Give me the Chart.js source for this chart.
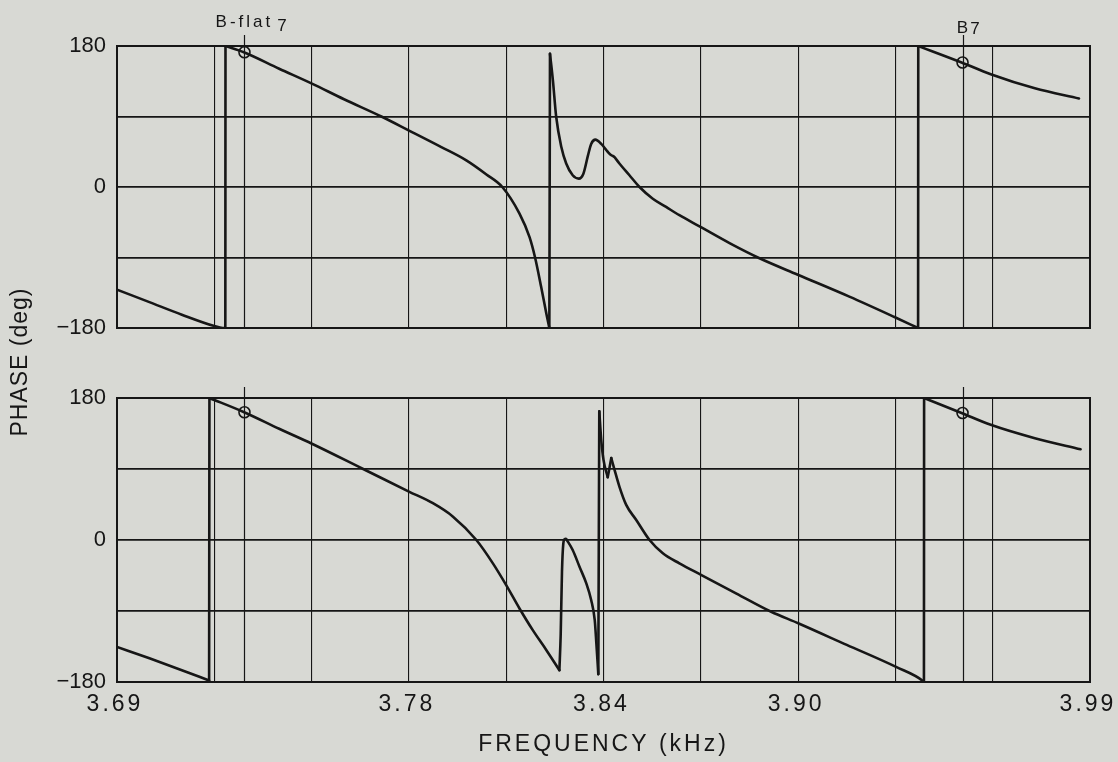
<!DOCTYPE html>
<html>
<head>
<meta charset="utf-8">
<script src="https://cdn.jsdelivr.net/npm/chart.js@4.4.1/dist/chart.umd.min.js"></script>
<style>
html,body{margin:0;padding:0;background:#d8d9d4;}
#wrap{position:relative;width:1118px;height:762px;overflow:hidden;}
canvas{position:absolute;left:0;top:0;}
</style>
</head>
<body>
<div id="wrap">
<canvas id="c1" width="1118" height="762"></canvas>
<canvas id="c2" width="1118" height="762"></canvas>
</div>
<script>
// ---------------- data ----------------
const xGridValues = [3.69, 3.72, 3.75, 3.78, 3.81, 3.84, 3.87, 3.90, 3.93, 3.96, 3.99];
const xTickLabels = ['3.69', '3.78', '3.84', '3.90', '3.99'];
const yGridValues = [-180, -90, 0, 90, 180];
const yLabelValues = [-180, 0, 180];
const yTickLabels = ['\u2212180', '0', '180'];
const xTitle = 'FREQUENCY (kHz)';
const yTitle = 'PHASE (deg)';

const noteNames = ['B-flat', 'B'];
const noteOctave = ['7', '7'];
const noteFreq = [3.7293, 3.9507];
const topNotePhase = [172, 159];
const botNotePhase = [162, 161];

const topFreq = [3.6900, 3.7000, 3.7100, 3.7200, 3.7226, 3.72340, 3.72345,
  3.7291, 3.7400, 3.7501, 3.7600, 3.7715, 3.7799, 3.7900, 3.7977, 3.8039, 3.8088,
  3.8141, 3.8172, 3.8189, 3.8208, 3.8224, 3.8233, 3.8235,
  3.8244, 3.8254, 3.8270, 3.8285, 3.8305, 3.8324, 3.8338, 3.8352, 3.8362, 3.8375,
  3.8393, 3.8413, 3.8424, 3.8430, 3.8434, 3.8449, 3.8480, 3.8511, 3.8552, 3.8593,
  3.8634, 3.8699, 3.8790, 3.8881, 3.8999, 3.9158, 3.9297, 3.93700, 3.93705,
  3.9504, 3.9594, 3.9730, 3.9866];
const topPhase = [-131, -147, -163, -177.5, -180, -180, 180,
  172, 151, 132, 112, 90, 72.4, 51, 34, 16, 0,
  -34, -64, -90, -128, -162, -180, 170,
  136, 90, 51, 30, 15, 10.7, 17, 40, 55, 60.5,
  55, 45, 40.5, 39.5, 38, 30, 15, 0, -15, -25.5,
  -36, -51, -72, -91, -112, -140, -166, -180, 180,
  159, 144, 126, 113];

const botFreq = [3.6900, 3.7000, 3.7100, 3.7184, 3.7185,
  3.7292, 3.7400, 3.7501, 3.7659, 3.7800, 3.7874, 3.7936, 3.8008, 3.8059, 3.8100,
  3.8141, 3.8182, 3.8224, 3.8264, 3.8268, 3.8272, 3.8276, 3.8280, 3.8284, 3.8290,
  3.8305, 3.8326, 3.8347, 3.8362, 3.8373, 3.8378, 3.8384, 3.8387,
  3.8393, 3.8400, 3.8413, 3.8424, 3.8434, 3.8449, 3.8470, 3.8501, 3.8542, 3.8583,
  3.8634, 3.8702, 3.8810, 3.8917, 3.9002, 3.9150, 3.9302, 3.9385, 3.93880, 3.93885,
  3.9504, 3.9594, 3.9730, 3.9871];
const botPhase = [-135.5, -150, -165, -178, 180,
  162, 141, 122, 90, 61.4, 46.6, 29.6, 0, -29.6, -57.2,
  -86.8, -114.3, -139.7, -165, -120, -40, -5, 1, 1.5, -2,
  -12.7, -33.9, -55, -76, -101.6, -131, -170, 163,
  127, 101.6, 79.6, 103.8, 89, 67.7, 44.5, 25.4, 0, -16.9,
  -29.6, -44.5, -68, -91, -105.8, -133, -160.9, -178.7, -180, 180,
  161, 146, 129, 115];

// ---------------- style ----------------
const INK = '#161616';
const FONT = "'Liberation Sans', Arial, Helvetica, sans-serif";
Chart.defaults.font.family = FONT;
Chart.defaults.color = INK;

// split a trace into smooth pieces at phase wraps and sharp cusps
function pieces(freq, phase) {
  const n = freq.length;
  const slope = i => (phase[i + 1] - phase[i]) / (freq[i + 1] - freq[i]);
  const isBreak = new Array(n).fill(false);
  for (let i = 0; i < n - 1; i++) {
    if (Math.abs(phase[i + 1] - phase[i]) > 200) { isBreak[i] = true; isBreak[i + 1] = true; }
  }
  for (let i = 1; i < n - 1; i++) {
    const a = slope(i - 1), b = slope(i);
    if (a * b < 0 && Math.max(Math.abs(a), Math.abs(b)) > 15000) isBreak[i] = true;
  }
  const out = [];
  let cur = [];
  for (let i = 0; i < n; i++) {
    cur.push({x: freq[i], y: phase[i]});
    if (isBreak[i] && i > 0 && i < n - 1) { out.push(cur); cur = [{x: freq[i], y: phase[i]}]; }
  }
  if (cur.length > 1) out.push(cur);
  return out;
}

function spaced(scale, px) {
  if (scale._spacedWrapped) return;
  scale._spacedWrapped = true;
  ['drawLabels', 'drawTitle'].forEach(m => {
    const orig = scale[m];
    scale[m] = function (...a) {
      const c = this.ctx; const prev = c.letterSpacing;
      c.letterSpacing = px + 'px';
      try { return orig.apply(this, a); } finally { c.letterSpacing = prev; }
    };
  });
}

const framePlugin = {
  id: 'frame',
  beforeDatasetsDraw(chart) {
    const {ctx, chartArea: a, scales: {x}} = chart;
    ctx.save();
    ctx.strokeStyle = INK;
    ctx.lineWidth = 1.2;
    noteFreq.forEach(f => {
      const px = Math.round(x.getPixelForValue(f)) + 0.5;
      ctx.beginPath(); ctx.moveTo(px, a.top - 11); ctx.lineTo(px, a.bottom); ctx.stroke();
    });
    ctx.lineWidth = 2;
    ctx.strokeRect(a.left, a.top, a.right - a.left, a.bottom - a.top);
    ctx.restore();
  }
};

const noteLabelPlugin = {
  id: 'noteLabels',
  afterDraw(chart) {
    const {ctx, scales: {x}} = chart;
    ctx.save();
    ctx.fillStyle = INK;
    ctx.font = '17px ' + FONT;
    ctx.textBaseline = 'alphabetic';
    ctx.textAlign = 'left';
    let px = x.getPixelForValue(noteFreq[0]);
    ctx.letterSpacing = '3px';
    let w = ctx.measureText(noteNames[0]).width;
    ctx.fillText(noteNames[0], px - w / 2, 27);
    ctx.letterSpacing = '0px';
    ctx.fillText(noteOctave[0], px + w / 2 + 4, 31);
    px = x.getPixelForValue(noteFreq[1]);
    w = ctx.measureText(noteNames[1]).width;
    ctx.fillText(noteNames[1], px - w / 2, 33);
    ctx.fillText(noteOctave[1], px + w / 2 + 2, 34);
    ctx.restore();
  }
};

const yTitlePlugin = {
  id: 'yTitle',
  afterDraw(chart) {
    const {ctx} = chart;
    ctx.save();
    ctx.fillStyle = INK;
    ctx.font = '23px ' + FONT;
    ctx.letterSpacing = '1px';
    ctx.textAlign = 'center';
    ctx.textBaseline = 'middle';
    ctx.translate(21, 362);
    ctx.rotate(-Math.PI / 2);
    ctx.fillText(yTitle, 0, 0);
    ctx.restore();
  }
};

function makeChart(id, freq, phase, notePhase, areaTop, areaBottom, showX) {
  const H = 762;
  const xAxisH = showX ? H - areaBottom : 0;
  const curveSets = pieces(freq, phase).map(p => ({
    data: p, showLine: true, borderColor: INK, borderWidth: 2.6,
    pointRadius: 0, cubicInterpolationMode: 'monotone',
    borderJoinStyle: 'round', borderCapStyle: 'round'
  }));
  return new Chart(document.getElementById(id), {
    type: 'scatter',
    data: {
      datasets: curveSets.concat([{
        data: noteFreq.map((f, i) => ({x: f, y: notePhase[i]})),
        showLine: false, pointStyle: 'circle', pointRadius: 5.5,
        borderColor: INK, borderWidth: 1.6, backgroundColor: 'rgba(0,0,0,0)'
      }])
    },
    options: {
      responsive: false,
      animation: false,
      events: [],
      layout: {padding: {top: areaTop, right: 28, bottom: showX ? 0 : H - areaBottom, left: 0}},
      plugins: {legend: {display: false}, tooltip: {enabled: false}},
      scales: {
        x: {
          type: 'linear', min: 3.69, max: 3.99,
          afterBuildTicks: s => { s.ticks = xGridValues.map(v => ({value: v})); },
          afterFit: s => { s.height = xAxisH; s.paddingLeft = 0; s.paddingRight = 0; },
          afterUpdate: s => spaced(s, 3),
          grid: {color: INK, lineWidth: 1.1, drawTicks: false},
          border: {display: false},
          ticks: {
            display: showX, autoSkip: false, maxRotation: 0, padding: 9, labelOffset: -2,
            font: {size: 23}, color: INK,
            callback: v => { const s = Number(v).toFixed(2); return xTickLabels.includes(s) ? s : ''; }
          },
          title: {display: showX, text: xTitle, font: {size: 23}, color: INK, padding: {top: 0, bottom: 4}}
        },
        y: {
          type: 'linear', min: -180, max: 180,
          afterBuildTicks: s => { s.ticks = yGridValues.map(v => ({value: v})); },
          afterFit: s => { s.width = 117; s.paddingTop = 0; s.paddingBottom = 0; },
          grid: {color: INK, lineWidth: 1.7, drawTicks: false},
          border: {display: false},
          ticks: {
            autoSkip: false, padding: 11, font: {size: 22}, color: INK,
            callback: v => { const k = yLabelValues.indexOf(Math.round(v)); return k >= 0 ? yTickLabels[k] : ''; }
          }
        }
      }
    },
    plugins: showX ? [framePlugin, yTitlePlugin] : [framePlugin, noteLabelPlugin]
  });
}

makeChart('c1', topFreq, topPhase, topNotePhase, 46, 328, false);
makeChart('c2', botFreq, botPhase, botNotePhase, 398, 682, true);
</script>
</body>
</html>
